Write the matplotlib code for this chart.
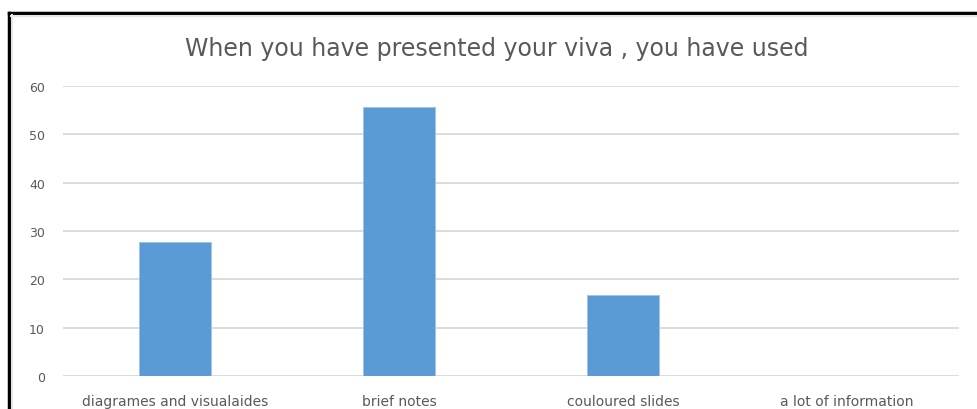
import matplotlib.pyplot as plt
from matplotlib.lines import Line2D

# survey answers, percent of respondents
categories = ['diagrames and visualaides', 'brief notes',
              'couloured slides', 'a lot of information']
values = [27.8, 55.6, 16.7, 0]
yticks = [0, 10, 20, 30, 40, 50, 60]

plt.rcParams['font.family'] = ['DejaVu Sans']

fig = plt.figure(figsize=(9.78, 4.10), dpi=100)
W, H = 978, 410

ax = fig.add_axes([63 / W, 33 / H, (959 - 63) / W, (377 - 87) / H])
ax.bar(range(len(categories)), values, width=0.32, color='#5B9BD5',
       edgecolor='#9DC3E6', linewidth=0.6, zorder=3)
ax.set_xlim(-0.5, len(categories) - 0.5)
ax.set_ylim(0, 60)
ax.set_yticks(yticks)
ax.set_xticks(range(len(categories)))
ax.set_xticklabels(categories, fontsize=10)
ax.grid(axis='y', color='#d9d9d9', linewidth=1.3, zorder=0)
ax.set_axisbelow(True)
for s in ax.spines.values():
    s.set_visible(False)
ax.tick_params(length=0, colors='#595959')
ax.tick_params(axis='y', pad=13, labelsize=9)
ax.tick_params(axis='x', pad=13)

fig.text(497 / W, 1 - 49 / H, 'When you have presented your viva , you have used',
         ha='center', va='center', fontsize=17, color='#595959')

# chart frame (cropped at right and bottom)
fig.add_artist(Line2D([9 / W, 9 / W], [0, 1 - 14 / H], color='black',
                      linewidth=2.5, transform=fig.transFigure))
fig.add_artist(Line2D([9 / W, 1], [1 - 14 / H, 1 - 14 / H], color='black',
                      linewidth=2.5, transform=fig.transFigure))
fig.add_artist(Line2D([11 / W, 1], [1 - 17 / H, 1 - 17 / H], color='#e6e6e6',
                      linewidth=1.5, transform=fig.transFigure))
fig.add_artist(Line2D([12 / W, 12 / W], [0, 1 - 16 / H], color='#e6e6e6',
                      linewidth=1.5, transform=fig.transFigure))

fig.savefig('out.png', dpi=100)
